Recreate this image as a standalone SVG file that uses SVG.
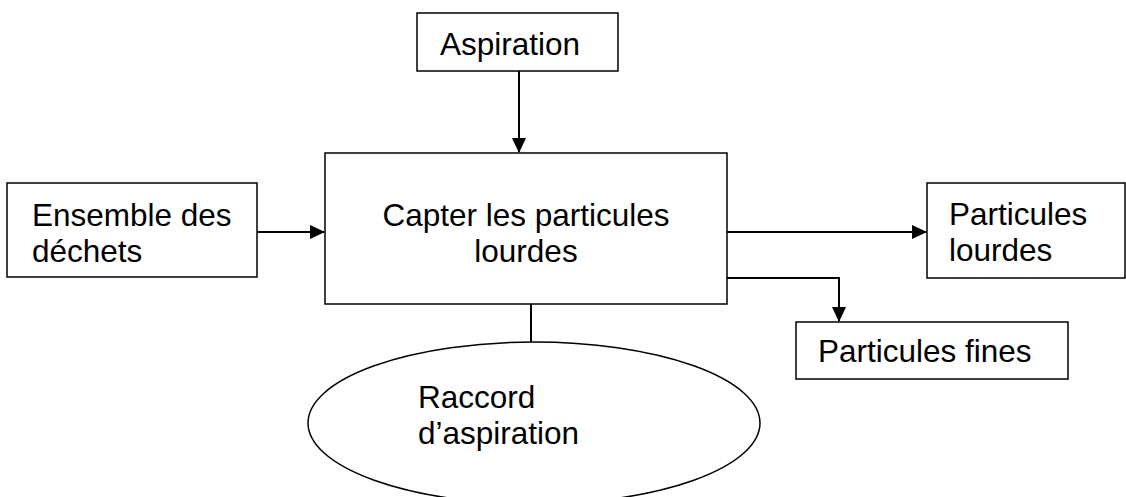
<svg xmlns="http://www.w3.org/2000/svg" width="1126" height="497" viewBox="0 0 1126 497">
<defs>
<marker id="ah" markerWidth="15" markerHeight="14" refX="14" refY="7" orient="auto" markerUnits="userSpaceOnUse">
<path d="M0,0 L15,7 L0,14 z" fill="#000"/>
</marker>
<style>
.box{fill:#fff;stroke:#000;stroke-width:1.5}
.t{font-family:"Liberation Sans",Arial,sans-serif;font-size:31.5px;fill:#000}
.c{fill:none;stroke:#000;stroke-width:2}
</style>
</defs>
<rect width="1126" height="497" fill="#fff"/>
<g id="connectors">
<line class="c" x1="519" y1="71" x2="519" y2="152" marker-end="url(#ah)"/>
<line class="c" x1="257" y1="232" x2="324" y2="232" marker-end="url(#ah)"/>
<line class="c" x1="727" y1="232" x2="926" y2="232" marker-end="url(#ah)"/>
<polyline class="c" points="727,278 839,278 839,321" marker-end="url(#ah)"/>
<line class="c" x1="531" y1="304" x2="531" y2="342"/>
</g>
<g id="aspiration">
<rect class="box" x="417" y="13" width="201" height="58"/>
<text class="t" x="440" y="55">Aspiration</text>
</g>
<g id="ensemble">
<rect class="box" x="7" y="183" width="250" height="94"/>
<text class="t" x="32" y="226">Ensemble des</text>
<text class="t" x="32" y="262">déchets</text>
</g>
<g id="capter">
<rect class="box" x="325" y="153" width="402" height="151"/>
<text class="t" x="526" y="226" text-anchor="middle">Capter les particules</text>
<text class="t" x="526" y="262" text-anchor="middle">lourdes</text>
</g>
<g id="lourdes">
<rect class="box" x="927" y="183" width="198" height="95"/>
<text class="t" x="949" y="225">Particules</text>
<text class="t" x="949" y="261">lourdes</text>
</g>
<g id="fines">
<rect class="box" x="796" y="322" width="272" height="57"/>
<text class="t" x="818" y="362">Particules fines</text>
</g>
<g id="raccord">
<ellipse class="box" cx="534" cy="423" rx="226" ry="81"/>
<text class="t" x="418" y="408">Raccord</text>
<text class="t" x="418" y="444">d’aspiration</text>
</g>
</svg>
